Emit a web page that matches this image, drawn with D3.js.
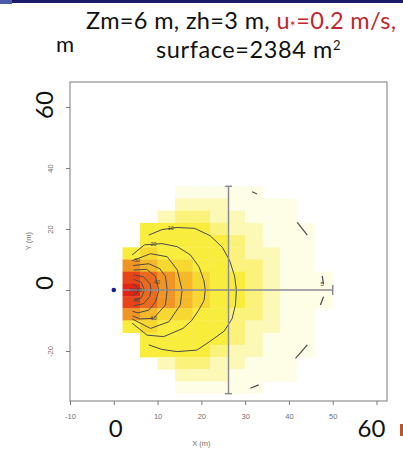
<!DOCTYPE html>
<html>
<head>
<meta charset="utf-8">
<script src="https://cdn.jsdelivr.net/npm/d3@7"></script>
<style>
body { margin: 0; background: #fff; }
svg { display: block; }
</style>
</head>
<body>
<svg id="chart" width="403" height="449"></svg>
<script>
// cell centres (m), 4 m cells
const xCells = [4, 8, 12, 16, 20, 24, 28, 32, 36, 40, 44, 48]
const yCells = [32, 28, 24, 20, 16, 12, 8, 4, 0, -4, -8, -12, -16, -20, -24, -28, -32]
// colour level per cell (0 = empty), row by row from the top
const cellLevels = [
    [0, 0, 0, 1, 1, 1, 1, 1, 0, 0, 0, 0],
    [0, 0, 0, 2, 2, 2, 1, 1, 1, 1, 0, 0],
    [0, 0, 2, 3, 3, 2, 2, 1, 1, 1, 0, 0],
    [0, 4, 4, 4, 4, 3, 2, 2, 1, 1, 1, 0],
    [0, 4, 4, 4, 4, 4, 3, 2, 1, 1, 1, 0],
    [4, 5, 4, 4, 4, 4, 3, 2, 2, 1, 1, 0],
    [7, 6, 5, 5, 4, 4, 3, 3, 2, 1, 1, 0],
    [9, 8, 7, 6, 5, 4, 4, 3, 2, 1, 1, 1],
    [10, 8, 7, 6, 5, 4, 4, 3, 2, 1, 1, 1],
    [9, 8, 7, 6, 5, 4, 4, 3, 2, 1, 1, 1],
    [7, 6, 5, 5, 4, 4, 3, 3, 2, 1, 1, 0],
    [4, 5, 4, 4, 4, 4, 3, 2, 2, 1, 1, 0],
    [0, 4, 4, 4, 4, 4, 3, 2, 1, 1, 1, 0],
    [0, 4, 4, 4, 4, 3, 2, 2, 1, 1, 1, 0],
    [0, 0, 2, 3, 3, 2, 2, 1, 1, 1, 0, 0],
    [0, 0, 0, 2, 2, 2, 1, 1, 1, 1, 0, 0],
    [0, 0, 0, 1, 1, 1, 1, 1, 0, 0, 0, 0]
]
const levelColors = ['none', '#fefde6', '#fcf8b6', '#faf27a', '#f8ec3c', '#f6d830',
    '#f4b82a', '#f09424', '#ec6a1e', '#e8441a', '#e32416']

// contour lines (m)
const contourLabels = ['10', '20', '30', '40', '50', '60', '70', '80']
const contourLines = [
    [[8, 18], [11, 19.8], [14.5, 20.5], [18.5, 20.2], [22, 17.8], [24.8, 14], [26.5, 9.5], [27.6, 4.5], [28, 0],
     [27.8, -4.9], [27, -9.5], [25.2, -13.5], [22, -16.8], [19, -19.7], [14.5, -20.2], [11, -19.5], [8, -18]],
    [[4.2, 11.5], [7, 14.8], [11, 15.2], [14.5, 14.2], [17.5, 11.5], [19.5, 7.5], [20.6, 3], [20.9, 0],
     [20.6, -3.5], [19.4, -6.6], [17.8, -10], [15.8, -12.6], [11.4, -15.3], [7.6, -14.8], [4.2, -10.9]],
    [[4.2, 9.6], [8.4, 11.9], [12.2, 10.9], [14.5, 6.6], [15.6, 0], [15.2, -4.9], [12.6, -10.4], [8.4, -12.6], [4.2, -9.5]],
    [[4.4, 8], [8, 8.6], [10.5, 7], [11.8, 4.5], [12.2, 0], [11.8, -4.9], [9.1, -9.3], [6, -9.5], [4.3, -8.5]],
    [[4.5, 6.5], [7.5, 6.8], [9.5, 4.5], [10.3, 0], [9.5, -4], [8, -6.6], [5.5, -7.5], [4.3, -7]],
    [[4.5, 5], [6.8, 4.3], [8.3, 2], [8.5, 0], [8.2, -2.2], [6.8, -4.5], [4.5, -5.2]],
    [[4.5, 3.5], [6.3, 2.5], [7, 0], [6.3, -2.5], [4.5, -3.5]],
    [[4.2, 2], [5.3, 1], [5.6, 0], [5.3, -1], [4.2, -2]]
]
const contourLabelPos = [[13, 20.4], [9.1, 15.1], [5.3, 9.8], [9.9, 2.7], [5.3, -3.3], [9.1, -9.3], [4.2, 0], [5.8, 0]]
// outer 5 contour, only short pieces inside the domain
const outerLabel = '5'
const outerPieces = [
    [[31.6, 32.2], [32.7, 31.5]],
    [[41.9, 22.2], [44.2, 18]],
    [[47.6, 4.6], [47.9, 2]],
    [[47.9, -2.2], [47.2, -4.9]],
    [[44.2, -18], [41.5, -22.4]],
    [[33.1, -31.1], [31.2, -32.2]]
]
const outerLabelPos = [47.6, 2]

// footprint extent cross (m)
const crossX = [2, 50]
const crossYAt = 26.2
const crossY = [-34, 34]

const xTicks = [-10, 0, 10, 20, 30, 40, 50, 60]
const yTicks = [-20, 0, 20, 40, 60]
const bigXLabels = [0, 60]
const bigYLabels = [0, 60]

let svg = d3.select('#chart')
let plot = {'left': 70, 'right': 387, 'top': 82, 'bottom': 401}

let x = d3.scaleLinear()
    .domain([-10, 62.4])
    .range([plot.left, plot.right])
let y = d3.scaleLinear()
    .domain([-36.4, 68.2])
    .range([plot.bottom, plot.top])

// slide decoration
svg.append('rect').attr('x', 0).attr('y', 0).attr('width', 403).attr('height', 3).attr('fill', '#1c1c6a')
svg.append('rect').attr('x', 0).attr('y', 0).attr('width', 12).attr('height', 4).attr('fill', '#4a5aa8')
svg.append('rect').attr('x', 400).attr('y', 424).attr('width', 3).attr('height', 12).attr('fill', '#b8562a')

// heat cells
let cells = []
cellLevels.forEach((row, j) => {
    row.forEach((lv, i) => {
        if (lv > 0) cells.push({'cx': xCells[i], 'cy': yCells[j], 'lv': lv})
    })
})
svg.append('g')
    .selectAll('rect')
    .data(cells)
    .enter()
    .append('rect')
    .attr('x', d => x(d.cx - 2))
    .attr('y', d => y(d.cy + 2))
    .attr('width', d => x(d.cx + 2) - x(d.cx - 2) + 0.3)
    .attr('height', d => y(d.cy - 2) - y(d.cy + 2) + 0.3)
    .attr('fill', d => levelColors[d.lv])

// contours
let line = d3.line()
    .x(d => x(d[0]))
    .y(d => y(d[1]))
    .curve(d3.curveLinear)
svg.append('g')
    .selectAll('path')
    .data(contourLines)
    .enter()
    .append('path')
    .attr('d', line)
    .attr('fill', 'none')
    .attr('stroke', '#4a4a4a')
    .attr('stroke-width', 1)
svg.append('g')
    .selectAll('path')
    .data(outerPieces)
    .enter()
    .append('path')
    .attr('d', line)
    .attr('fill', 'none')
    .attr('stroke', '#4a4a4a')
    .attr('stroke-width', 1.2)

// cross
let cross = svg.append('g')
    .attr('stroke', '#8b8b97')
    .attr('stroke-width', 1.5)
cross.append('line')
    .attr('x1', x(crossX[0])).attr('x2', x(crossX[1]))
    .attr('y1', y(0)).attr('y2', y(0))
cross.append('line')
    .attr('x1', x(crossX[1])).attr('x2', x(crossX[1]))
    .attr('y1', y(0) - 5).attr('y2', y(0) + 5)
cross.append('line')
    .attr('x1', x(crossYAt)).attr('x2', x(crossYAt))
    .attr('y1', y(crossY[0])).attr('y2', y(crossY[1]))
crossY.forEach(v => {
    cross.append('line')
        .attr('x1', x(crossYAt) - 3.5).attr('x2', x(crossYAt) + 3.5)
        .attr('y1', y(v)).attr('y2', y(v))
})

// contour labels
svg.append('g')
    .selectAll('text')
    .data(contourLabelPos)
    .enter()
    .append('text')
    .attr('x', d => x(d[0]))
    .attr('y', d => y(d[1]) + 2)
    .attr('text-anchor', 'middle')
    .attr('font-family', 'Liberation Sans, Arial, sans-serif')
    .attr('font-size', '5.5px')
    .attr('fill', '#444')
    .text((d, i) => contourLabels[i])
svg.append('text')
    .attr('x', x(outerLabelPos[0]))
    .attr('y', y(outerLabelPos[1]) + 2)
    .attr('text-anchor', 'middle')
    .attr('font-family', 'Liberation Sans, Arial, sans-serif')
    .attr('font-size', '6px')
    .attr('fill', '#444')
    .text(outerLabel)

// source point
svg.append('circle')
    .attr('cx', x(0))
    .attr('cy', y(0))
    .attr('r', 2.3)
    .attr('fill', '#1d1d8f')

// box
svg.append('rect')
    .attr('x', plot.left)
    .attr('y', plot.top)
    .attr('width', plot.right - plot.left)
    .attr('height', plot.bottom - plot.top)
    .attr('fill', 'none')
    .attr('stroke', '#7a7a7a')
    .attr('stroke-width', 1)

// axes
let axis_x = d3.axisBottom(x)
    .tickValues(xTicks)
    .tickSize(4)
    .tickFormat(d => bigXLabels.includes(d) ? '' : d)
let gx = svg.append('g')
    .attr('transform', `translate(0, ${plot.bottom})`)
    .call(axis_x)
gx.select('.domain').remove()
gx.selectAll('line').attr('stroke', '#7a7a7a')
gx.selectAll('text')
    .attr('font-family', 'Liberation Sans, Arial, sans-serif')
    .attr('font-size', '7.5px')
    .attr('fill', '#6f6f6f')
    .attr('dy', '1.4em')

let axis_y = d3.axisLeft(y)
    .tickValues(yTicks)
    .tickSize(4)
    .tickFormat(d => bigYLabels.includes(d) ? '' : d)
let gy = svg.append('g')
    .attr('transform', `translate(${plot.left}, 0)`)
    .call(axis_y)
gy.select('.domain').remove()
gy.selectAll('line').attr('stroke', '#7a7a7a')
gy.selectAll('text')
    .attr('font-family', 'Liberation Sans, Arial, sans-serif')
    .attr('font-size', '7.5px')
    .attr('fill', '#6f6f6f')
    .attr('x', 0)
    .attr('dy', 0)
    .attr('text-anchor', 'middle')
    .attr('transform', 'translate(-17, 0) rotate(-90)')

svg.append('text')
    .attr('x', x(20))
    .attr('y', 446)
    .attr('text-anchor', 'middle')
    .attr('font-family', 'Liberation Sans, Arial, sans-serif')
    .attr('font-size', '7.5px')
    .attr('fill', '#6f6f6f')
    .text('X (m)')
svg.append('text')
    .attr('transform', `translate(31, ${y(16)}) rotate(-90)`)
    .attr('text-anchor', 'middle')
    .attr('font-family', 'Liberation Sans, Arial, sans-serif')
    .attr('font-size', '7.5px')
    .attr('fill', '#6f6f6f')
    .text('Y (m)')

// big slide labels over the axes
bigXLabels.forEach(v => {
    svg.append('text')
        .attr('x', x(v) + (v == 0 ? 2 : -5))
        .attr('y', 437)
        .attr('text-anchor', 'middle')
        .attr('font-family', 'Lato, sans-serif')
        .attr('font-size', '24px')
        .attr('fill', '#111')
        .text(v)
})
bigYLabels.forEach(v => {
    svg.append('text')
        .attr('transform', `translate(53, ${y(v) - (v == 0 ? 7 : 2)}) rotate(-90)`)
        .attr('text-anchor', 'middle')
        .attr('font-family', 'Lato, sans-serif')
        .attr('font-size', '24px')
        .attr('fill', '#111')
        .text(v)
})

// title
let title = svg.append('g')
    .attr('font-family', 'Lato, sans-serif')
    .attr('font-size', '23.5px')
    .attr('fill', '#111')
let t1 = title.append('text').attr('x', 86).attr('y', 28.5).attr('letter-spacing', 0.35)
t1.append('tspan').text('Zm=6 m, zh=3 m, ')
t1.append('tspan').attr('fill', '#c0272d').text('u')
t1.append('tspan').attr('fill', '#c0272d').attr('dy', 2).attr('font-size', '14px').text('*')
t1.append('tspan').attr('fill', '#c0272d').attr('dy', -2).text('=0.2 m/s,')
let t2 = title.append('text').attr('x', 156).attr('y', 57.5).attr('letter-spacing', 0.6)
t2.append('tspan').text('surface=2384 m')
t2.append('tspan').attr('dy', -8).attr('font-size', '13px').text('2')
title.append('text').attr('x', 56).attr('y', 52).attr('font-size', '22px').text('m')
</script>
</body>
</html>
